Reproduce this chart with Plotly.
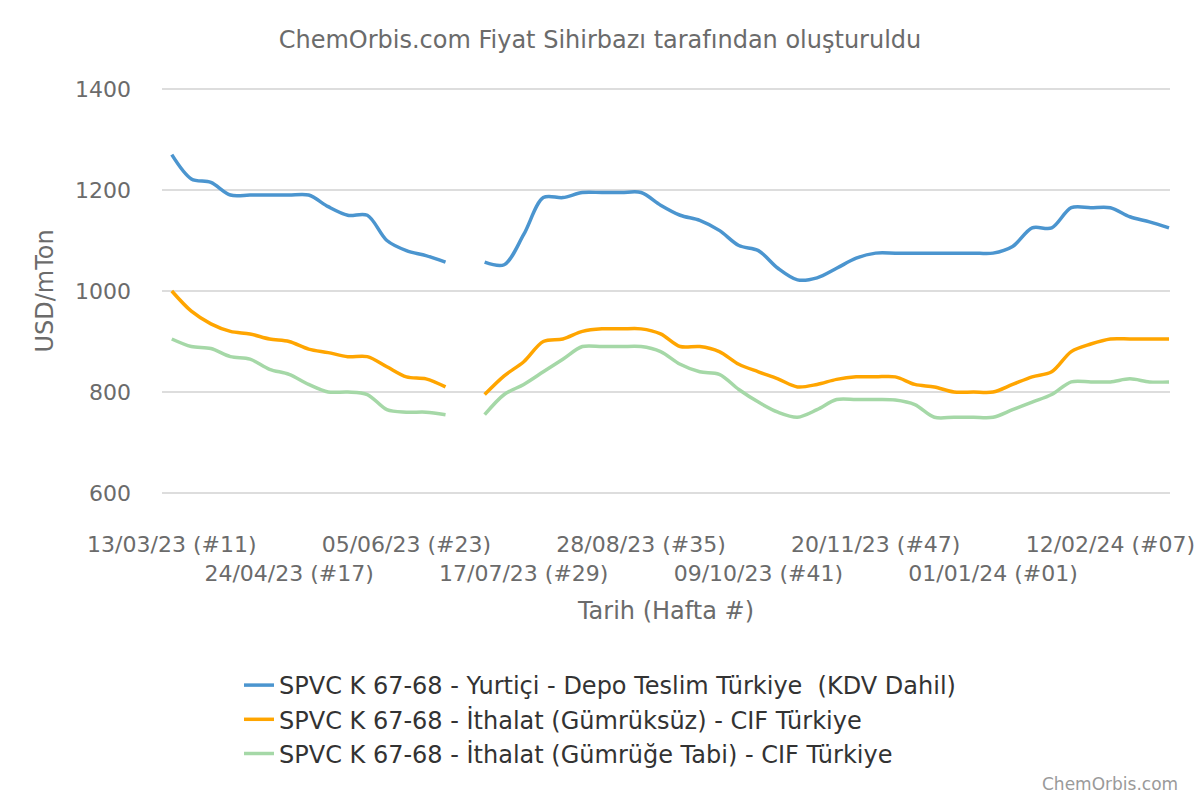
import plotly.graph_objects as go

weeks = list(range(52))
tick_positions = [0, 6, 12, 18, 24, 30, 36, 42, 48]
tick_labels = ["13/03/23 (#11)", "24/04/23 (#17)", "05/06/23 (#23)", "17/07/23 (#29)",
               "28/08/23 (#35)", "09/10/23 (#41)", "20/11/23 (#47)", "01/01/24 (#01)",
               "12/02/24 (#07)"]

yurtici = [1270, 1222, 1215, 1190, 1190, 1190, 1190, 1190, 1167, 1150,
           1150, 1100, 1080, 1070, 1057, None, 1057, 1052, 1112, 1185,
           1185, 1195, 1195, 1195, 1195, 1170, 1150, 1140, 1120, 1090,
           1080, 1045, 1022, 1026, 1045, 1065, 1075, 1075, 1075, 1075,
           1075, 1075, 1075, 1088, 1125, 1125, 1165, 1165, 1165, 1147,
           1137, 1125]
gumruksuz = [1000, 960, 935, 920, 915, 905, 900, 885, 878, 870,
             870, 850, 830, 826, 810, None, 795, 832, 860, 900,
             905, 920, 925, 925, 925, 915, 890, 890, 880, 855,
             840, 826, 810, 815, 825, 830, 830, 830, 815, 810,
             800, 800, 800, 815, 830, 840, 880, 895, 905, 905,
             905, 905]
gumruge_tabi = [905, 890, 886, 870, 865, 845, 835, 815, 800, 800,
                795, 765, 760, 760, 755, None, 755, 795, 815, 840,
                865, 890, 890, 890, 890, 880, 855, 840, 835, 805,
                780, 760, 750, 765, 785, 785, 785, 784, 775, 750,
                750, 750, 750, 765, 780, 795, 820, 820, 820, 826,
                820, 820]

series_names = ["SPVC K 67-68 - Yurtiçi - Depo Teslim Türkiye  (KDV Dahil)",
                "SPVC K 67-68 - İthalat (Gümrüksüz) - CIF Türkiye",
                "SPVC K 67-68 - İthalat (Gümrüğe Tabi) - CIF Türkiye"]
colors = ["#4b95cf", "#ffa500", "#a5d8a7"]

ticktext = [t if i % 2 == 0 else "<br>" + t for i, t in enumerate(tick_labels)]

fig = go.Figure()
for name, vals, col in zip(series_names, [yurtici, gumruksuz, gumruge_tabi], colors):
    fig.add_trace(go.Scatter(x=weeks, y=vals, name=name, mode="lines",
                             line=dict(color=col, width=3.5, shape="spline", smoothing=0.9),
                             connectgaps=False))

gray = "#6b6b6b"
fig.update_layout(
    width=1200, height=800,
    paper_bgcolor="white", plot_bgcolor="white",
    font=dict(family="DejaVu Sans", size=22, color=gray),
    margin=dict(l=162, r=30, t=88, b=306, autoexpand=False),
    title=dict(text="ChemOrbis.com Fiyat Sihirbazı tarafından oluşturuldu",
               x=0.5, xref="container", xanchor="center",
               y=1 - 40 / 800, yref="container", yanchor="middle",
               font=dict(size=24, color=gray)),
    xaxis=dict(range=[-0.5, 51.05], tickvals=tick_positions, ticktext=ticktext,
               tickangle=0, automargin=False,
               showgrid=False, zeroline=False, showline=False, ticks="",
               ticklabelstandoff=35,
               title=dict(text="Tarih (Hafta #)", standoff=17, font=dict(size=24, color=gray)),
               tickfont=dict(size=22, color=gray)),
    yaxis=dict(range=[598, 1402], tickvals=[600, 800, 1000, 1200, 1400],
               automargin=False,
               showgrid=True, gridcolor="#dddddd", gridwidth=1.5,
               zeroline=False, showline=False, ticks="",
               ticklabelstandoff=30,
               title=dict(text="USD/mTon", standoff=14, font=dict(size=24, color=gray)),
               tickfont=dict(size=22, color=gray)),
    legend=dict(orientation="v", xref="container", yref="container",
                x=0.5, xanchor="center", y=1 - 663 / 800, yanchor="top",
                font=dict(size=24, color="#333333"), tracegroupgap=0,
                itemwidth=30),
    showlegend=True,
)
fig.add_annotation(text="ChemOrbis.com", xref="paper", yref="paper",
                   x=(1180 - 162) / 1008, xanchor="right",
                   y=(494 - 784) / 406, yanchor="middle",
                   showarrow=False, font=dict(size=17, color="#9a9a9a"))

fig.write_html("out.html")
